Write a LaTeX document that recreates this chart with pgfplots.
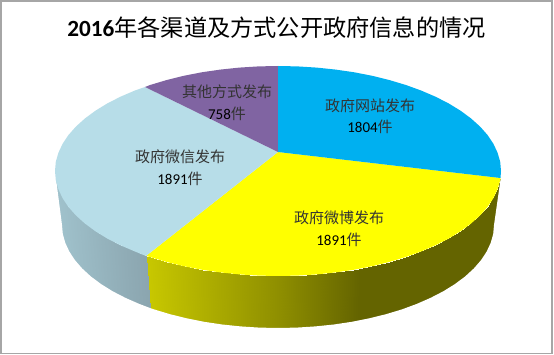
\documentclass[border=0pt]{standalone}
\usepackage{fontspec}
\usepackage{pgfplots}
\pgfplotsset{compat=1.18}
\setmainfont{Carlito}
\newfontfamily\cjk{Noto Sans CJK SC}
\pgfplotsset{
  colormap={yelside}{rgb255(55)=(200,200,0); rgb255(146)=(200,200,0); rgb255(280)=(142,142,0); rgb255(360)=(100,100,0); rgb255(501)=(100,100,0)},
  colormap={bluside}{rgb255(55)=(160,194,204); rgb255(150)=(138,164,174); rgb255(501)=(138,164,174)},
}
\definecolor{cblue}{HTML}{00B0F0}
\definecolor{cyel}{HTML}{FFFF00}
\definecolor{clight}{HTML}{B7DDE8}
\definecolor{cpurp}{HTML}{8064A2}
\definecolor{cframe}{HTML}{A6A6A6}
\definecolor{ctxt}{HTML}{333333}
\begin{document}
\begin{tikzpicture}
\path[use as bounding box] (0,0) rectangle (554pt,355pt);
\begin{axis}[
  scale only axis, width=554pt, height=355pt,
  xmin=0, xmax=554, ymin=0, ymax=355, y dir=reverse,
  hide axis, point meta min=55, point meta max=501, clip=false,
]
% frame
\addplot[draw=cframe, line width=1.2pt, fill=white] coordinates {(1,1) (552,1) (552,353.5) (1,353.5)} -- cycle;
% yellow side
\addplot[surf, shader=interp, colormap name=yelside, point meta=explicit, draw=none] table[x=x,y=y,meta=c] {
x y c
501 176 501
500.2 180.2 500.2
497.6 189.2 497.6
493.4 198.2 493.4
487.6 206.9 487.6
480.1 215.4 480.1
471.1 223.5 471.1
460.7 231.2 460.7
448.8 238.5 448.8
435.7 245.2 435.7
421.3 251.4 421.3
405.9 257 405.9
389.5 261.9 389.5
372.2 266.2 372.2
354.3 269.7 354.3
335.7 272.4 335.7
316.7 274.4 316.7
297.4 275.6 297.4
278 276 278
258.6 275.6 258.6
239.3 274.4 239.3
220.3 272.4 220.3
201.7 269.7 201.7
183.8 266.2 183.8
166.5 261.9 166.5
150.1 257 150.1
146 256 146

495 225 501
494.2 234 500.2
491.7 243.9 497.6
487.6 252.7 493.4
482 261.2 487.6
474.8 269.5 480.1
466.1 277.5 471.1
455.9 285.1 460.7
444.5 292.2 448.8
431.7 298.8 435.7
417.8 304.9 421.3
402.9 310.4 405.9
387 315.2 389.5
370.3 319.3 372.2
352.9 322.8 354.3
334.9 325.5 335.7
316.5 327.4 316.7
297.8 328.6 297.4
278 329 278
258.2 328.6 258.6
239.5 327.4 239.3
221.1 325.5 220.3
203.1 322.8 201.7
185.7 319.3 183.8
169 315.2 166.5
153.1 310.4 150.1
150 309 146
};
% light blue side
\addplot[surf, shader=interp, colormap name=bluside, point meta=explicit, draw=none] table[x=x,y=y,meta=c] {
x y c
146 256 146
134.7 251.4 134.7
120.3 245.2 120.3
107.2 238.5 107.2
95.3 231.2 95.3
84.9 223.5 84.9
75.9 215.4 75.9
68.4 206.9 68.4
62.6 198.2 62.6
58.4 189.2 58.4
55.8 180.2 55.8
55 171 55

150 309 146
138.2 304.9 134.7
124.3 298.8 120.3
111.5 292.2 107.2
100.1 285.1 95.3
89.9 277.5 84.9
81.2 269.5 75.9
74 261.2 68.4
68.4 252.7 62.6
64.3 243.9 58.4
61.8 234 55.8
61 225 55
};
% white outside the side wall
\addplot[fill=white, draw=none] coordinates {(510,176) (501,176) (494,225) (493.2,234) (490.7,242.9) (486.6,251.7) (481,260.2) (473.8,268.5) (465.1,276.5) (454.9,284.1) (443.5,291.2) (430.7,297.8) (416.8,303.9) (401.9,309.4) (386,314.2) (369.3,318.3) (351.9,321.8) (333.9,324.5) (315.5,326.4) (296.8,327.6) (278,328) (259.2,327.6) (240.5,326.4) (222.1,324.5) (204.1,321.8) (186.7,318.3) (170,314.2) (154.1,309.4) (150,308) (139.2,303.9) (125.3,297.8) (112.5,291.2) (101.1,284.1) (90.9,276.5) (82.2,268.5) (75,260.2) (69.4,251.7) (65.3,242.9) (62.8,234) (62,225) (55,171) (45,171) (45,345) (510,345)} -- cycle;
% top faces
\addplot[fill=cyel, draw=none] coordinates {(278,152) (500.5,178) (500.2,180.2) (497.6,189.2) (493.4,198.2) (487.6,206.9) (480.1,215.4) (471.1,223.5) (460.7,231.2) (448.8,238.5) (435.7,245.2) (421.3,251.4) (405.9,257) (389.5,261.9) (372.2,266.2) (354.3,269.7) (335.7,272.4) (316.7,274.4) (297.4,275.6) (278,276) (258.6,275.6) (239.3,274.4) (220.3,272.4) (201.7,269.7) (183.8,266.2) (166.5,261.9) (150.1,257) (146,256)} -- cycle;
\addplot[fill=clight, draw=none] coordinates {(278,152) (146,256) (134.7,251.4) (120.3,245.2) (107.2,238.5) (95.3,231.2) (84.9,223.5) (75.9,215.4) (68.4,206.9) (62.6,198.2) (58.4,189.2) (55.8,180.2) (55,171) (55.8,161.8) (58.4,152.8) (62.6,143.8) (68.4,135.1) (75.9,126.6) (84.9,118.5) (95.3,110.8) (107.2,103.5) (120.3,96.8) (134.7,90.6) (145,87)} -- cycle;
\addplot[fill=cpurp, draw=none] coordinates {(278,152) (145,87) (150.1,85) (166.5,80.1) (183.8,75.8) (201.7,72.3) (220.3,69.6) (239.3,67.6) (258.6,66.4) (278,66)} -- cycle;
\addplot[fill=cblue, draw=none] coordinates {(278,152) (278,66) (297.4,66.4) (316.7,67.6) (335.7,69.6) (354.3,72.3) (372.2,75.8) (389.5,80.1) (405.9,85) (421.3,90.6) (435.7,96.8) (448.8,103.5) (460.7,110.8) (471.1,118.5) (480.1,126.6) (487.6,135.1) (493.4,143.8) (497.6,152.8) (500.2,161.8) (501,171) (500.5,178)} -- cycle;
% text
\node[font=\fontsize{23.2pt}{26pt}\selectfont, text=black, inner sep=0pt] at (axis cs:276.5,28) {\bfseries 2016{\cjk\mdseries 年各渠道及方式公开政府信息的情况}};
\node[font=\fontsize{15pt}{18pt}\selectfont\cjk, text=ctxt, inner sep=0pt] at (axis cs:370,106) {政府网站发布};
\node[font=\fontsize{15pt}{18pt}\selectfont, inner sep=0pt] at (axis cs:370,127) {1804{\cjk\color{ctxt}件}};
\node[font=\fontsize{15pt}{18pt}\selectfont\cjk, text=ctxt, inner sep=0pt] at (axis cs:339,218) {政府微博发布};
\node[font=\fontsize{15pt}{18pt}\selectfont, inner sep=0pt] at (axis cs:339,240) {1891{\cjk\color{ctxt}件}};
\node[font=\fontsize{15pt}{18pt}\selectfont\cjk, text=ctxt, inner sep=0pt] at (axis cs:180,157) {政府微信发布};
\node[font=\fontsize{15pt}{18pt}\selectfont, inner sep=0pt] at (axis cs:180,179) {1891{\cjk\color{ctxt}件}};
\node[font=\fontsize{15pt}{18pt}\selectfont\cjk, text=ctxt, inner sep=0pt] at (axis cs:227,92) {其他方式发布};
\node[font=\fontsize{15pt}{18pt}\selectfont, inner sep=0pt] at (axis cs:227,114) {758{\cjk\color{ctxt}件}};
\end{axis}
\end{tikzpicture}
\end{document}
